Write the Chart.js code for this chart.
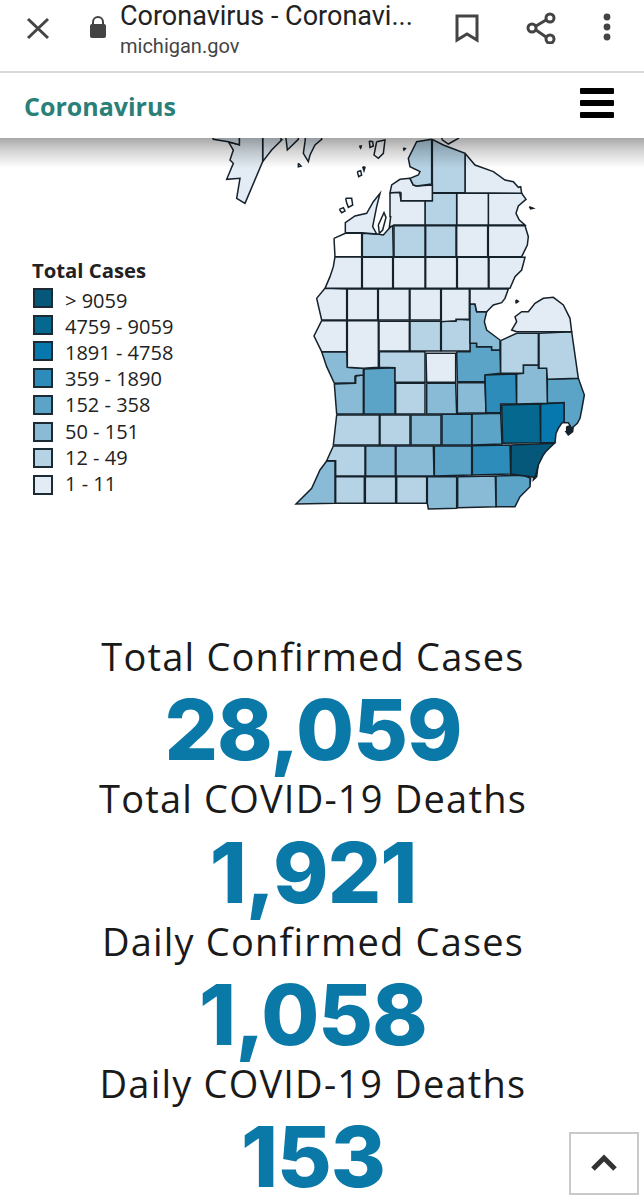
<!DOCTYPE html>
<html>
<head>
<meta charset="utf-8">
<title>Coronavirus - Michigan</title>
<script src="https://cdn.jsdelivr.net/npm/chart.js@4"></script>
<style>
html,body{margin:0;padding:0;background:#fff;}
#page{position:relative;width:644px;height:1200px;overflow:hidden;background:#fff;font-family:"Open Sans",sans-serif;color:#1b1b1b;}
#page div,#page svg,#page canvas{position:absolute;}
#topbar{left:0;top:0;width:644px;height:71px;background:#fff;border-bottom:2px solid #d9d9d9;z-index:3;}
#pagetitle{left:120px;top:0;font:27px/33px Roboto,sans-serif;color:#222;white-space:nowrap;}
#domain{left:120px;top:33px;font:20px/26px Roboto,sans-serif;color:#444;white-space:nowrap;}
#navbar{left:0;top:73px;width:644px;height:65px;background:#fff;z-index:3;}
#shade{left:0;top:138px;width:644px;height:30px;z-index:2;background:linear-gradient(to bottom,rgba(0,0,0,.34),rgba(0,0,0,.16) 45%,rgba(0,0,0,0));}
#brand{left:24px;top:15px;font:bold 25px/36px "Open Sans",sans-serif;color:#2a8078;white-space:nowrap;}
.bar{left:580px;width:34px;height:6px;background:#000;border-radius:1px;}
#map{left:200px;top:130px;z-index:1;}
#legend{left:0;top:0;width:200px;height:520px;}
#legendtitle{left:32px;top:256px;font:bold 20.3px/28px "Open Sans",sans-serif;color:#222;white-space:nowrap;}
.swatch{left:33px;width:16px;height:16px;border:2px solid #1c2a33;}
.lab{left:65px;font:20px/26px "Open Sans",sans-serif;color:#222;white-space:nowrap;}
.statlabel{left:0;width:626px;text-align:center;font:38px/44px "Open Sans",sans-serif;color:#1a1a1a;letter-spacing:1.2px;white-space:nowrap;}
.statvalue{left:0;width:626px;text-align:center;font:800 84px/72px Inter,sans-serif;color:#0b79a8;letter-spacing:-1px;white-space:nowrap;}
#totop{left:569px;top:1132px;width:66px;height:59px;background:#fff;border:2px solid #c9c9c9;z-index:2;}
</style>
</head>
<body>
<div id="page">
  <div id="topbar">
    <svg style="left:26px;top:16px" width="24" height="24" viewBox="0 0 24 24"><path d="M2 3L22 22M22 3L2 22" stroke="#444" stroke-width="3" fill="none"/></svg>
    <svg style="left:88px;top:15px" width="20" height="24" viewBox="0 0 20 24"><path d="M5 10V7a5 5 0 0 1 10 0v3" stroke="#444" stroke-width="2" fill="none"/><rect x="2" y="9" width="16" height="14" rx="2" fill="#444"/></svg>
    <div id="pagetitle">Coronavirus - Coronavi...</div>
    <div id="domain">michigan.gov</div>
    <svg style="left:454px;top:13px" width="26" height="30" viewBox="0 0 26 30"><path d="M3 3H23V27L13 21L3 27Z" stroke="#444" stroke-width="3" fill="none"/></svg>
    <svg style="left:525px;top:12px" width="32" height="32" viewBox="0 0 32 32"><g stroke="#444" stroke-width="3" fill="none"><circle cx="25" cy="6" r="4"/><circle cx="7" cy="16" r="4"/><circle cx="25" cy="27" r="4"/><path d="M11 14L21 8M11 18L21 25"/></g></svg>
    <svg style="left:600px;top:12px" width="14" height="32" viewBox="0 0 14 32"><circle cx="7" cy="5" r="3.4" fill="#444"/><circle cx="7" cy="15" r="3.4" fill="#444"/><circle cx="7" cy="25" r="3.4" fill="#444"/></svg>
  </div>
  <div id="navbar">
    <div id="brand">Coronavirus</div>
    <div class="bar" style="top:15px"></div>
    <div class="bar" style="top:27px"></div>
    <div class="bar" style="top:39px"></div>
  </div>
  <div id="shade"></div>
  <canvas id="map" width="400" height="385"></canvas>
  <div id="legend"><div id="legendtitle">Total Cases</div></div>
  <div id="stats"></div>
  <div id="totop">
    <svg style="left:20px;top:20px" width="26" height="18" viewBox="0 0 26 18"><path d="M2 15L13 4L24 15" stroke="#333" stroke-width="5" fill="none"/></svg>
  </div>
</div>
<script>
// legend classes, darkest first
var legendLabels = ["> 9059", "4759 - 9059", "1891 - 4758", "359 - 1890", "152 - 358", "50 - 151", "12 - 49", "1 - 11"];
var legendFloors = [9060, 4759, 1891, 359, 152, 50, 12, 1];
var legendColors = ["#06587a", "#04688f", "#0678ad", "#2e8cbb", "#5ba4c8", "#8abbd6", "#b6d3e5", "#e3ecf4"];

var statLabels = ["Total Confirmed Cases", "Total COVID-19 Deaths", "Daily Confirmed Cases", "Daily COVID-19 Deaths"];
var statValues = ["28,059", "1,921", "1,058", "153"];

// counties, case counts are estimates inside the class the map shows
var countyNames = ["Dickinson", "Delta", "Schoolcraft", "Mackinac W", "Mackinac E",
	"Emmet", "Charlevoix", "Cheboygan", "Presque Isle",
	"Antrim", "Otsego", "Montmorency", "Alpena",
	"Leelanau", "Benzie", "Grand Traverse", "Kalkaska", "Crawford", "Oscoda", "Alcona",
	"Manistee", "Wexford", "Missaukee", "Roscommon", "Ogemaw", "Iosco",
	"Mason", "Lake", "Osceola", "Clare", "Gladwin", "Arenac", "Bay",
	"Oceana", "Newaygo", "Mecosta", "Isabella", "Midland",
	"Huron", "Tuscola", "Sanilac", "Lapeer", "Genesee", "Oakland", "Macomb", "St. Clair",
	"Saginaw", "Gratiot", "Montcalm", "Muskegon", "Kent", "Ottawa", "Ionia", "Clinton", "Shiawassee",
	"Allegan", "Barry", "Eaton", "Ingham", "Livingston",
	"Van Buren", "Kalamazoo", "Calhoun", "Jackson", "Washtenaw", "Wayne",
	"Berrien", "Cass", "St. Joseph", "Branch", "Hillsdale", "Lenawee", "Monroe"];

var countyCases = [5, 9, 3, 6, 4,
	14, 10, 18, 3,
	8, 40, 5, 6,
	5, 0, 28, 20, 13, 3, 4,
	9, 11, 5, 9, 6, 11,
	7, 2, 6, 8, 10, 9, 120,
	10, 11, 11, 40, 45,
	11, 40, 30, 110, 1300, 7000, 4000, 220,
	300, 11, 30, 130, 340, 120, 20, 90, 110,
	35, 30, 80, 250, 280,
	30, 130, 120, 270, 1000, 12000,
	130, 18, 14, 35, 130, 100, 200];

// outlines in map units, one ring per county, same order as countyNames
var countyOutlines = [
	[[30,0],[40,28],[85,35],[118,44],[118,0]],
	[[85,35],[100,60],[90,90],[100,100],[80,148],[120,145],[110,205],[135,220],[188,95],[188,0],[118,0],[118,44]],
	[[188,0],[188,95],[215,60],[245,30],[243,0]],
	[[255,0],[262,60],[295,28],[298,0]],
	[[315,35],[310,70],[325,95],[330,75],[345,45],[365,28],[365,0],[318,0]],
	[[695,28],[650,35],[625,85],[630,110],[660,125],[655,135],[630,145],[640,165],[650,168],[695,162]],
	[[630,145],[600,148],[575,165],[570,188],[600,187],[603,212],[697,212],[697,165],[650,168],[640,165]],
	[[697,28],[730,45],[795,70],[795,188],[697,188]],
	[[795,70],[825,105],[880,125],[915,150],[940,155],[955,172],[962,170],[965,190],[795,188]],
	[[570,188],[600,187],[603,212],[675,212],[675,285],[582,285],[568,292],[572,260]],
	[[675,212],[697,212],[697,190],[770,190],[770,285],[675,285]],
	[[770,190],[865,190],[865,285],[770,285]],
	[[865,190],[965,190],[978,208],[955,228],[948,250],[958,270],[975,285],[865,285]],
	[[436,308],[436,278],[465,258],[500,250],[520,215],[540,190],[530,230],[518,290],[530,312],[487,308]],
	[[402,325],[436,310],[485,310],[485,380],[405,380]],
	[[487,310],[530,312],[550,315],[568,295],[578,285],[580,380],[487,380]],
	[[582,287],[675,287],[675,380],[582,380]],
	[[677,287],[768,287],[768,380],[677,380]],
	[[770,287],[863,287],[863,380],[770,380]],
	[[865,287],[975,287],[985,320],[982,345],[965,380],[865,380]],
	[[405,380],[485,380],[485,475],[375,475],[390,440],[400,410]],
	[[487,382],[578,382],[578,475],[487,475]],
	[[580,382],[675,382],[675,475],[580,475]],
	[[677,382],[770,382],[770,475],[677,475]],
	[[772,382],[865,382],[865,475],[772,475]],
	[[867,382],[975,382],[965,420],[945,440],[930,475],[867,475]],
	[[375,475],[440,477],[440,570],[365,570],[350,505]],
	[[442,477],[533,477],[533,570],[442,570]],
	[[535,477],[628,477],[628,570],[535,570]],
	[[630,477],[722,477],[722,570],[630,570]],
	[[724,477],[808,477],[808,568],[768,568],[768,572],[724,575]],
	[[810,477],[925,477],[915,505],[905,518],[880,525],[860,545],[830,545],[825,522],[810,522]],
	[[810,522],[825,522],[830,545],[860,545],[853,575],[860,600],[900,630],[900,660],[875,660],[875,650],[830,650],[830,640],[810,640]],
	[[365,572],[440,572],[440,665],[365,665],[342,618]],
	[[442,572],[535,572],[535,712],[490,715],[442,712]],
	[[537,574],[628,574],[628,663],[537,663]],
	[[630,574],[722,574],[722,663],[630,663]],
	[[724,574],[768,574],[768,568],[810,570],[810,663],[724,663]],
	[[950,605],[935,600],[950,575],[945,560],[965,545],[985,545],[1005,520],[1030,505],[1060,502],[1090,525],[1110,565],[1115,605]],
	[[902,632],[950,610],[1015,610],[1015,705],[970,705],[970,730],[902,730]],
	[[1017,610],[1115,605],[1135,745],[1042,748],[1040,715],[1017,715]],
	[[950,732],[970,730],[970,705],[1015,705],[1015,715],[1040,715],[1042,820],[950,822]],
	[[855,735],[948,732],[950,822],[902,822],[902,848],[858,848]],
	[[905,825],[1020,822],[1022,938],[908,940]],
	[[1020,822],[1092,818],[1092,875],[1085,880],[1075,895],[1068,910],[1065,938],[1022,938]],
	[[1042,748],[1135,745],[1153,795],[1145,840],[1140,865],[1132,880],[1115,895],[1105,878],[1092,878],[1092,818],[1042,820]],
	[[770,665],[810,665],[810,640],[830,640],[830,650],[875,650],[875,660],[900,660],[902,730],[855,735],[855,755],[772,755]],
	[[678,670],[767,670],[767,757],[680,757]],
	[[538,665],[675,665],[675,757],[585,757],[585,713],[538,712]],
	[[365,665],[440,665],[442,712],[490,715],[490,735],[467,737],[465,758],[403,760],[380,710]],
	[[492,717],[585,713],[585,852],[492,852]],
	[[403,762],[465,760],[467,737],[490,735],[490,852],[410,852]],
	[[587,760],[675,760],[675,852],[587,852]],
	[[680,760],[767,760],[770,852],[680,852]],
	[[772,758],[855,758],[858,848],[772,850]],
	[[410,855],[538,855],[538,945],[400,945],[405,900]],
	[[540,855],[630,855],[630,945],[540,945]],
	[[633,855],[723,855],[723,945],[633,945]],
	[[726,853],[815,852],[815,945],[726,945]],
	[[816,852],[902,850],[906,942],[816,945]],
	[[400,948],[495,948],[495,1038],[407,1038],[407,992],[380,992]],
	[[497,948],[586,948],[586,1038],[497,1038]],
	[[588,948],[700,948],[702,1038],[588,1038]],
	[[703,948],[815,948],[815,1035],[703,1038]],
	[[817,947],[930,945],[932,1032],[817,1035]],
	[[933,945],[1063,940],[1040,962],[1030,975],[1015,1005],[1005,1042],[932,1032]],
	[[380,993],[405,993],[405,1120],[288,1122],[335,1075],[360,1020]],
	[[407,1040],[493,1040],[493,1120],[407,1120]],
	[[496,1040],[587,1040],[587,1120],[496,1120]],
	[[590,1040],[680,1040],[680,1120],[590,1120]],
	[[682,1040],[770,1040],[770,1135],[685,1137],[682,1120]],
	[[773,1040],[886,1038],[888,1130],[773,1133]],
	[[888,1038],[970,1036],[992,1045],[990,1070],[975,1085],[960,1100],[945,1130],[890,1130]]
];

// islands and peninsulas drawn on top, white with a dark edge
var islandOutlines = [
	[[508,33],[518,35],[520,48],[510,52]],
	[[530,35],[555,30],[550,70],[535,85],[522,75]],
	[[478,48],[484,48],[482,54]],
	[[610,54],[616,56],[612,60]],
	[[295,100],[303,108],[295,110]],
	[[472,125],[482,122],[485,135],[476,140]],
	[[488,110],[495,112],[492,122]],
	[[437,205],[455,205],[458,225],[445,232],[440,218]],
	[[418,238],[430,233],[435,243],[425,248]],
	[[725,28],[745,42],[775,25],[770,12],[730,12]],
	[[535,285],[552,248],[558,262],[548,300],[538,310]],
	[[988,230],[1000,235],[992,237]],
	[[948,510],[955,514],[950,518]]
];
var darkOutlines = [
	[[1100,890],[1120,885],[1118,905],[1105,915],[1098,905]],
	[[1005,1010],[1015,1000],[1010,1040],[1000,1050]]
];

function caseColor(n) {
	for (var i = 0; i < legendFloors.length; i++) {
		if (n >= legendFloors[i]) return legendColors[i];
	}
	return "#ffffff";
}

function ring(label, outline, color) {
	var pts = outline.concat([outline[0]]).map(function(p) { return {x: p[0], y: p[1]}; });
	return {
		label: label, data: pts, showLine: true, fill: "shape",
		backgroundColor: color, borderColor: "#16222b", borderWidth: 1.5,
		borderJoinStyle: "miter", pointRadius: 0, tension: 0
	};
}

var sets = [];
countyNames.forEach(function(name, i) {
	sets.push(ring(name, countyOutlines[i], caseColor(countyCases[i])));
});
islandOutlines.forEach(function(o, i) { sets.push(ring("island" + i, o, "#ffffff")); });
darkOutlines.forEach(function(o, i) { sets.push(ring("shoal" + i, o, "#16222b")); });

new Chart(document.getElementById("map").getContext("2d"), {
	type: "scatter",
	data: {datasets: sets},
	options: {
		responsive: false,
		animation: false,
		devicePixelRatio: 1,
		layout: {padding: 0},
		plugins: {legend: {display: false}, tooltip: {enabled: false}},
		scales: {
			x: {type: "linear", display: false, min: 0, max: 1200},
			y: {type: "linear", display: false, min: 0, max: 1155, reverse: true}
		}
	}
});

// legend and headline numbers
var legend = document.getElementById("legend");
legendLabels.forEach(function(t, i) {
	var s = document.createElement("div");
	s.className = "swatch";
	s.style.top = Math.round(288 + i * 26.7) + "px";
	s.style.background = legendColors[i];
	legend.appendChild(s);
	var l = document.createElement("div");
	l.className = "lab";
	l.style.top = Math.round(288 + i * 26.1) + "px";
	l.textContent = t;
	legend.appendChild(l);
});

var stats = document.getElementById("stats");
var labelTops = [634, 776, 919, 1061];
var valueTops = [694, 837, 979, 1121];
statLabels.forEach(function(t, i) {
	var a = document.createElement("div");
	a.className = "statlabel";
	a.style.top = labelTops[i] + "px";
	a.textContent = t;
	stats.appendChild(a);
	var b = document.createElement("div");
	b.className = "statvalue";
	b.style.top = valueTops[i] + "px";
	b.textContent = statValues[i];
	stats.appendChild(b);
});
</script>
</body>
</html>
